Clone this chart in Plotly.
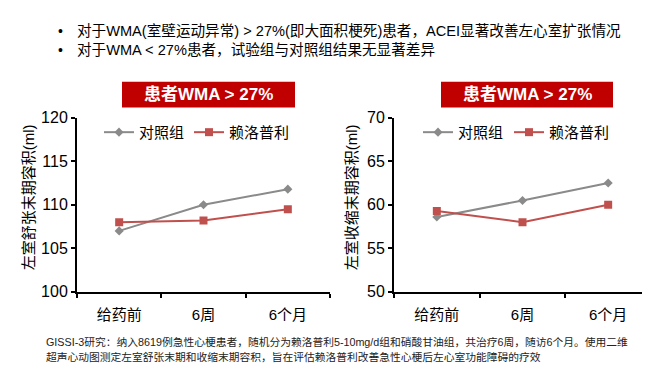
import plotly.graph_objects as go

# ---------------- data ----------------
categories = ["给药前", "6周", "6个月"]
series_names = ["对照组", "赖洛普利"]
edv_control = [107.0, 110.0, 111.8]
edv_lisinopril = [108.0, 108.2, 109.5]
esv_control = [58.6, 60.5, 62.5]
esv_lisinopril = [59.3, 58.0, 60.0]

left_title = "左室舒张末期容积(ml)"
right_title = "左室收缩末期容积(ml)"
banner_text = "患者WMA > 27%"
bullets = [
    "对于WMA(室壁运动异常) > 27%(即大面积梗死)患者，ACEI显著改善左心室扩张情况",
    "对于WMA < 27%患者，试验组与对照组结果无显著差异",
]
footnotes = [
    "GISSI-3研究：纳入8619例急性心梗患者，随机分为赖洛普利5-10mg/d组和硝酸甘油组，共治疗6周，随访6个月。使用二维",
    "超声心动图测定左室舒张末期和收缩末期容积，旨在评估赖洛普利改善急性心梗后左心室功能障碍的疗效",
]

W, H = 650, 372
FONT = "Liberation Sans, Arial, Noto Sans CJK SC"
GRAY = "#8A8A8A"
RED = "#C0504D"


def px(x):
    return x / W


def py(y):
    return 1 - y / H


fig = go.Figure()

panels = [
    ("x", "y", edv_control, edv_lisinopril, ("legend", "legend2")),
    ("x2", "y2", esv_control, esv_lisinopril, ("legend3", "legend4")),
]
for xa, ya, ctrl, lis, legs in panels:
    for vals, name, color, sym, size, leg in [
        (ctrl, series_names[0], GRAY, "diamond", 7, legs[0]),
        (lis, series_names[1], RED, "square", 8, legs[1]),
    ]:
        fig.add_trace(go.Scatter(
            x=categories, y=vals, name=name, mode="lines+markers",
            line=dict(color=color, width=2),
            marker=dict(symbol=sym, size=size, color=color),
            xaxis=xa, yaxis=ya, legend=leg,
        ))

xax = dict(
    type="category", range=[-0.5, 2.5], showgrid=False, zeroline=False,
    showline=True, linecolor="black", linewidth=2,
    ticks="outside", tickson="boundaries", ticklen=4, tickwidth=1.5, tickcolor="black",
    tickfont=dict(family=FONT, size=15, color="black"), ticklabelstandoff=8,
)
yax = dict(
    showgrid=False, zeroline=False, showline=True, linecolor="black", linewidth=2,
    ticks="outside", ticklen=4, tickwidth=1.5, tickcolor="black",
    tickfont=dict(family=FONT, size=16, color="black"), dtick=5,
)

y_dom = [py(289), py(106.7)]


def leg(xpix):
    return dict(orientation="h", x=px(xpix), y=py(122), xanchor="left", yanchor="middle",
                font=dict(family=FONT, size=15, color="black"), bgcolor="rgba(0,0,0,0)")


fig.update_layout(
    width=W, height=H,
    margin=dict(l=0, r=0, t=0, b=0),
    paper_bgcolor="white", plot_bgcolor="white",
    font=dict(family=FONT, color="black"),
    xaxis=dict(xax, domain=[px(69), px(322)], anchor="y"),
    yaxis=dict(yax, domain=y_dom, range=[100, 120], anchor="x"),
    xaxis2=dict(xax, domain=[px(386), px(643)], anchor="y2"),
    yaxis2=dict(yax, domain=y_dom, range=[50, 70], anchor="x2"),
    legend=leg(91),
    legend2=leg(181),
    legend3=leg(410),
    legend4=leg(501),
    showlegend=True,
)

# banners
for x0, x1 in [(114, 287), (433, 605)]:
    fig.add_shape(type="rect", xref="paper", yref="paper",
                  x0=px(x0), x1=px(x1), y0=py(96), y1=py(69),
                  fillcolor="#C00000", line=dict(width=0), layer="below")
    fig.add_annotation(xref="paper", yref="paper", x=px((x0 + x1) / 2), y=py(82.5),
                       text="<b>" + banner_text + "</b>", showarrow=False,
                       font=dict(family=FONT, size=17, color="white"),
                       xanchor="center", yanchor="middle")

# y-axis titles
for xc, t in [(20, left_title), (343, right_title)]:
    fig.add_annotation(xref="paper", yref="paper", x=px(xc), y=py(190), text=t,
                       textangle=-90, showarrow=False,
                       font=dict(family=FONT, size=15, color="black"),
                       xanchor="center", yanchor="middle")

# bullets
for yc, t in zip([16, 36], bullets):
    fig.add_annotation(xref="paper", yref="paper", x=px(48), y=py(yc), text="•",
                       showarrow=False, font=dict(family=FONT, size=14, color="black"),
                       xanchor="left", yanchor="middle")
    fig.add_annotation(xref="paper", yref="paper", x=px(67), y=py(yc), text=t,
                       showarrow=False, font=dict(family=FONT, size=14.6, color="black"),
                       xanchor="left", yanchor="middle")

# footnotes
for yc, t in zip([342, 357], footnotes):
    fig.add_annotation(xref="paper", yref="paper", x=px(36), y=py(yc), text=t,
                       showarrow=False, font=dict(family=FONT, size=10.75, color="#222222"),
                       xanchor="left", yanchor="middle")

fig.write_html("out.html")
